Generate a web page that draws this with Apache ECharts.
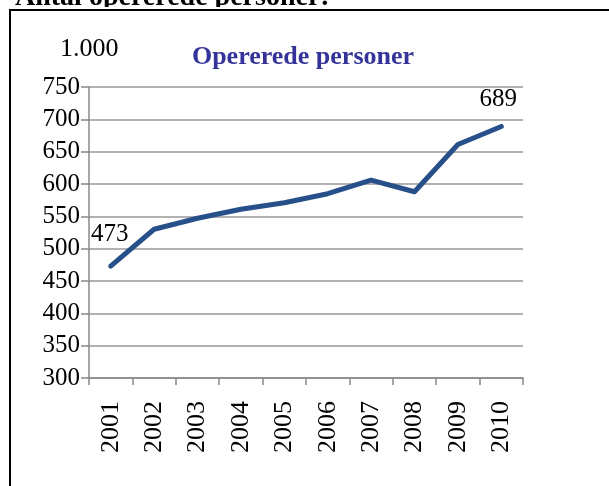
<!DOCTYPE html>
<html><head><meta charset="utf-8">
<script src="https://cdn.jsdelivr.net/npm/echarts@6/dist/echarts.min.js"></script>
<style>html,body{margin:0;padding:0;background:#fff}#c{width:609px;height:486px}</style>
</head><body><div id="c"></div>
<script>
var years = ['2001','2002','2003','2004','2005','2006','2007','2008','2009','2010'];
var persons = [473, 530, 547, 561, 571, 585, 606, 588, 661, 689];
var yTicks = {min: 300, max: 750, step: 50};
var titleText = 'Opererede personer';
var headerText = 'Antal opererede personer:';
var unitText = '1.000';

var serif = '"Liberation Serif", "DejaVu Serif", serif';
var chart = echarts.init(document.getElementById('c'));
chart.setOption({
  animation: false,
  backgroundColor: '#fff',
  grid: {left: 89, right: 86, top: 87, bottom: 108},
  graphic: [
    {type: 'text', x: 15, y: -16, style: {text: headerText, font: 'bold 28px ' + serif, fill: '#000'}},
    {type: 'rect', shape: {x: 0, y: 7, width: 609, height: 4}, style: {fill: '#fff'}},
    {type: 'line', shape: {x1: 9, y1: 10, x2: 609, y2: 10}, style: {stroke: '#000', lineWidth: 2}},
    {type: 'line', shape: {x1: 10, y1: 9, x2: 10, y2: 486}, style: {stroke: '#000', lineWidth: 2}},
    {type: 'text', x: 60, y: 36, style: {text: unitText, font: '26px ' + serif, fill: '#000'}},
    {type: 'text', x: 303, y: 44, style: {text: titleText, font: 'bold 26px ' + serif, fill: '#333399', textAlign: 'center'}}
  ],
  xAxis: {
    type: 'category', data: years, boundaryGap: true,
    axisLine: {lineStyle: {color: '#888', width: 1.5}},
    axisTick: {show: true, length: 7, alignWithLabel: false, lineStyle: {color: '#888', width: 1.5}},
    axisLabel: {rotate: 90, fontFamily: serif, fontSize: 26, color: '#000', margin: 23}
  },
  yAxis: {
    type: 'value', min: yTicks.min, max: yTicks.max, interval: yTicks.step,
    axisLine: {show: true, lineStyle: {color: '#888', width: 1.5}},
    axisTick: {show: true, length: 8, lineStyle: {color: '#888', width: 1.5}},
    splitLine: {lineStyle: {color: '#999', width: 1.5}},
    axisLabel: {fontFamily: serif, fontSize: 25, color: '#000', margin: 9}
  },
  series: [{
    type: 'line',
    data: persons.map(function (v, i) {
      var item = {value: v};
      if (i === 0) item.label = {show: true, position: 'top', offset: [-1, -14]};
      if (i === persons.length - 1) item.label = {show: true, position: 'top', offset: [-3, -9]};
      return item;
    }),
    symbol: 'circle', symbolSize: 1, showSymbol: true,
    itemStyle: {color: '#27508a'},
    lineStyle: {color: '#27508a', width: 5, cap: 'round', join: 'round'},
    label: {show: false, fontFamily: serif, fontSize: 25, color: '#000'}
  }]
});
</script></body></html>
